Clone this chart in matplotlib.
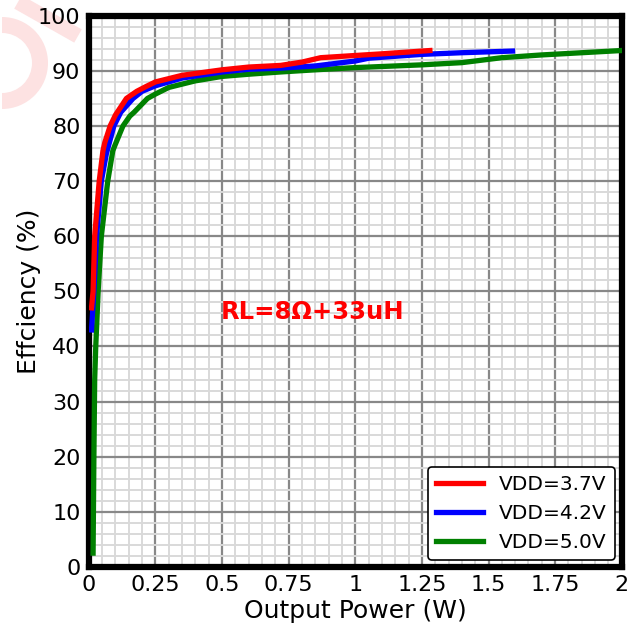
import matplotlib
matplotlib.use("Agg")
import matplotlib.pyplot as plt
from matplotlib.ticker import MultipleLocator
from matplotlib.patches import Wedge

# Data
red_x = [0.010, 0.016, 0.022, 0.039, 0.053, 0.060, 0.080, 0.100, 0.141, 0.180, 0.216, 0.250, 0.350, 0.500, 0.600, 0.720, 0.800, 0.870, 1.000, 1.100, 1.280]
red_y = [47.0, 50.0, 60.0, 70.0, 75.5, 77.0, 80.0, 82.0, 85.0, 86.3, 87.2, 88.0, 89.2, 90.2, 90.7, 91.0, 91.6, 92.4, 92.8, 93.1, 93.7]

blue_x = [0.010, 0.019, 0.029, 0.047, 0.066, 0.094, 0.120, 0.166, 0.200, 0.250, 0.350, 0.500, 0.600, 0.720, 0.850, 1.000, 1.050, 1.250, 1.400, 1.590]
blue_y = [43.0, 50.0, 60.0, 70.0, 75.0, 80.0, 82.5, 85.0, 86.3, 87.3, 88.7, 89.8, 90.3, 90.5, 90.9, 91.8, 92.3, 93.0, 93.3, 93.6]

green_x = [0.016, 0.019, 0.022, 0.026, 0.035, 0.047, 0.071, 0.090, 0.098, 0.128, 0.154, 0.170, 0.220, 0.250, 0.300, 0.400, 0.500, 0.600, 0.717, 0.850, 1.000, 1.250, 1.400, 1.550, 1.700, 1.850, 2.000]
green_y = [2.5, 20.0, 34.0, 40.0, 50.0, 60.0, 70.0, 75.5, 76.5, 80.0, 81.8, 82.5, 85.0, 85.8, 87.0, 88.2, 89.0, 89.4, 89.8, 90.2, 90.6, 91.1, 91.5, 92.4, 92.9, 93.3, 93.7]

labels = ["VDD=3.7V", "VDD=4.2V", "VDD=5.0V"]
x_ticks = [0, 0.25, 0.5, 0.75, 1, 1.25, 1.5, 1.75, 2]
x_tick_labels = ["0", "0.25", "0.5", "0.75", "1", "1.25", "1.5", "1.75", "2"]
y_ticks = list(range(0, 101, 10))

W, H = 639, 632
fig = plt.figure(figsize=(W / 100, H / 100), dpi=100)

# faint watermark fragment in the top-left corner (pixel-space overlay)
bg = fig.add_axes([0, 0, 1, 1], zorder=-10)
bg.set_xlim(0, W)
bg.set_ylim(H, 0)
bg.axis("off")
wm = "#fde2e2"
bg.add_patch(Wedge((2, 63), 46, -90, 90, width=16, color=wm, lw=0))
bg.plot([18, 78], [2, 36], color=wm, lw=11, solid_capstyle="butt")

ax = fig.add_axes([0.139, 0.103, 0.834, 0.872])

ax.plot(red_x, red_y, color="red", lw=3.8, label=labels[0], zorder=5)
ax.plot(blue_x, blue_y, color="blue", lw=3.8, label=labels[1], zorder=4)
ax.plot(green_x, green_y, color="green", lw=3.8, label=labels[2], zorder=3)

ax.set_xlim(0, 2)
ax.set_ylim(0, 100)
ax.set_xticks(x_ticks)
ax.set_xticklabels(x_tick_labels)
ax.set_yticks(y_ticks)
ax.xaxis.set_minor_locator(MultipleLocator(0.05))
ax.yaxis.set_minor_locator(MultipleLocator(2))
ax.grid(which="major", color="#888888", lw=1.6, zorder=1)
ax.grid(which="minor", color="#d9d9d9", lw=1.4, zorder=0)
ax.set_axisbelow(True)

ax.tick_params(which="both", length=0, labelsize=16, pad=6)
for s in ax.spines.values():
    s.set_linewidth(4.5)
    s.set_color("black")

ax.set_xlabel("Output Power (W)", fontsize=18, labelpad=3)
ax.set_ylabel("Effciency (%)", fontsize=18, labelpad=-2)

ax.text(0.84, 46.3, "RL=8\u03a9+33uH", color="red", fontsize=17.5,
        fontweight="bold", ha="center", va="center")

leg = ax.legend(loc="lower right", fontsize=14.5, frameon=True, handlelength=2.3,
                borderaxespad=0.35, labelspacing=0.5, handletextpad=0.8)
leg.get_frame().set_edgecolor("black")
leg.get_frame().set_linewidth(1.2)
leg.get_frame().set_alpha(1)

fig.savefig("out.png", dpi=100)
